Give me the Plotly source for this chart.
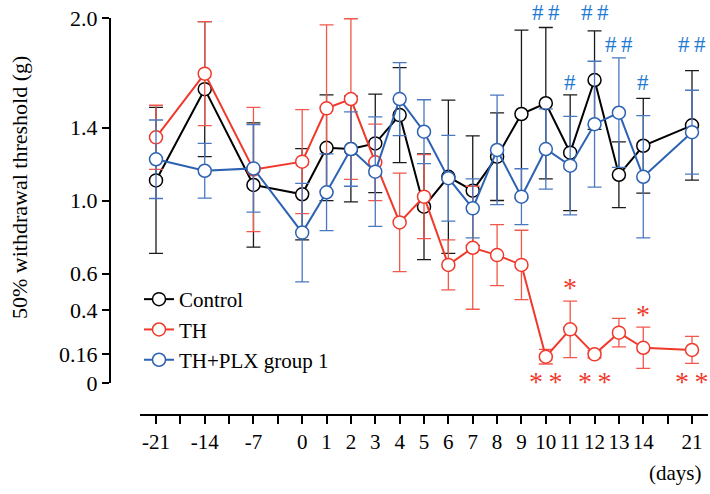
import plotly.graph_objects as go

# ---- data ----
days = [-21, -14, -7, 0, 1, 2, 3, 4, 5, 6, 7, 8, 9, 10, 11, 12, 13, 14, 21]

control = [1.11, 1.61, 1.085, 1.034, 1.289, 1.282, 1.313, 1.468, 0.966, 1.13,
           1.054, 1.24, 1.474, 1.533, 1.262, 1.66, 1.141, 1.30, 1.412]
control_err = [0.40, 0.37, 0.34, 0.25, 0.29, 0.29, 0.27, 0.26, 0.29, 0.42,
               0.30, 0.24, 0.46, 0.415, 0.317, 0.27, 0.18, 0.26, 0.30]

th = [1.346, 1.695, 1.17, 1.213, 1.505, 1.556, 1.209, 0.88, 1.021, 0.647,
      0.741, 0.701, 0.647, 0.144, 0.294, 0.157, 0.276, 0.193, 0.181]
th_err = [0.176, 0.285, 0.34, 0.285, 0.457, 0.44, 0.21, 0.27, 0.23, 0.137,
          0.337, 0.167, 0.19, 0.04, 0.155, 0.02, 0.078, 0.113, 0.074]

plx = [1.226, 1.163, 1.176, 0.824, 1.045, 1.282, 1.158, 1.556, 1.377, 1.122,
       0.957, 1.277, 1.021, 1.282, 1.191, 1.418, 1.481, 1.130, 1.374]
plx_err = [0.215, 0.15, 0.24, 0.27, 0.21, 0.204, 0.30, 0.20, 0.175, 0.235,
           0.162, 0.30, 0.153, 0.22, 0.27, 0.345, 0.30, 0.335, 0.23]

y_tick_vals = [0, 0.16, 0.4, 0.6, 1.0, 1.4, 2.0]
y_tick_text = ["0", "0.16", "0.4", "0.6", "1.0", "1.4", "2.0"]

x_tick_days = [-21, -17.5, -14, -10.5, -7, -3.5, 0, 1, 2, 3, 4, 5, 6, 7, 8, 9,
               10, 11, 12, 13, 14, 17.5, 21]
x_tick_text = ["-21", "", "-14", "", "-7", "", "0", "1", "2", "3", "4", "5", "6",
               "7", "8", "9", "10", "11", "12", "13", "14", "", "21"]

hash_days = [10, 11, 12, 13, 14, 21]
hash_text = ["#\u2009#", "#", "#\u2009#", "#\u2009#", "#", "#\u2009#"]
hash_y = [2.11, 1.725, 2.11, 1.935, 1.725, 1.935]

star_days = [10, 11, 12, 14, 21]
star_text = ["*\u2009*", "*", "*\u2009*", "*", "*\u2009*"]
star_y = [-0.09, 0.43, -0.09, 0.28, -0.09]


# piecewise-linear day scale (compressed outside 0..14)
def pos(d):
    if d < 0:
        return d / 3.5
    if d > 14:
        return 14 + (d - 14) / 3.5
    return d


xs = [pos(d) for d in days]

BLACK = "#000000"
RED = "#f0392b"
BLUE = "#2d62b3"
HASH_BLUE = "#1f7ad1"
FONT = "Liberation Serif"

W, H = 710, 494
ML, MR, MT, MB = 110, 2, 18, H - 415
pw = W - ML - MR
ph = H - MT - MB
YDOM0 = 32 / ph
YMAX = 2.0


def px_x(px):  # page pixel -> paper x
    return (px - ML) / pw


def px_y(py):  # page pixel -> paper y
    return (H - MB - py) / ph


def val_to_paper_y(v):
    return YDOM0 + v / YMAX * (1 - YDOM0)


fig = go.Figure()
for name, vals, err, col, ecol in [
    ("Control", control, control_err, BLACK, "#1a1a1a"),
    ("TH", th, th_err, RED, "#f2584c"),
    ("TH+PLX group 1", plx, plx_err, BLUE, "#4a78c0"),
]:
    fig.add_trace(go.Scatter(
        x=xs, y=vals, name=name, mode="lines+markers",
        line=dict(color=col, width=2),
        marker=dict(symbol="circle", size=13, color="white",
                    line=dict(color=col, width=1.5)),
        error_y=dict(type="data", array=err, visible=True, color=ecol,
                     thickness=1.3, width=7),
        cliponaxis=False,
    ))

for d, t, y in zip(hash_days, hash_text, hash_y):
    fig.add_annotation(x=pos(d), xref="x", y=val_to_paper_y(y), yref="paper",
                       text=t, showarrow=False,
                       font=dict(family=FONT, size=23, color=HASH_BLUE))
for d, t, y in zip(star_days, star_text, star_y):
    fig.add_annotation(x=pos(d), xref="x", y=val_to_paper_y(y), yref="paper",
                       text=t, showarrow=False,
                       font=dict(family=FONT, size=28, color=RED))

fig.add_annotation(xref="paper", yref="paper", x=px_x(703), y=px_y(473),
                   xanchor="right", yanchor="middle",
                   text="(days)", showarrow=False,
                   font=dict(family=FONT, size=21, color="black"))
fig.add_annotation(xref="paper", yref="paper", x=px_x(19), y=px_y(188),
                   xanchor="center", yanchor="middle",
                   text="50% withdrawal threshold (g)", textangle=-90,
                   showarrow=False, font=dict(family=FONT, size=22, color="black"))

fig.update_layout(
    width=W, height=H,
    margin=dict(l=ML, r=MR, t=MT, b=MB, autoexpand=False),
    plot_bgcolor="white", paper_bgcolor="white",
    font=dict(family=FONT, size=21, color="black"),
    showlegend=True,
    legend=dict(x=px_x(139), y=px_y(279), xanchor="left",
                yanchor="top", bgcolor="rgba(0,0,0,0)",
                font=dict(family=FONT, size=21), tracegroupgap=0),
    xaxis=dict(domain=[30 / pw, 1], range=[-6.657, 16.657], anchor="free",
               position=0, showline=True, linecolor="black", linewidth=2,
               ticks="outside", ticklen=8, tickwidth=2, tickcolor="black",
               tickvals=[pos(d) for d in x_tick_days], ticktext=x_tick_text,
               showgrid=False, zeroline=False, ticklabeloverflow="allow",
               tickfont=dict(family=FONT, size=21)),
    yaxis=dict(domain=[YDOM0, 1], range=[0, YMAX], anchor="free", position=0,
               showline=True, linecolor="black", linewidth=2,
               ticks="outside", ticklen=7, tickwidth=2, tickcolor="black",
               tickvals=y_tick_vals, ticktext=y_tick_text,
               showgrid=False, zeroline=False, ticklabeloverflow="allow",
               tickfont=dict(family=FONT, size=22)),
)

# remove the browser's default 8px body margin so the figure sits at (0, 0)
fig.write_html("out.html",
               config={"displayModeBar": False},
               post_script="document.body.style.margin='0px';"
                           "document.body.style.overflow='hidden';")
